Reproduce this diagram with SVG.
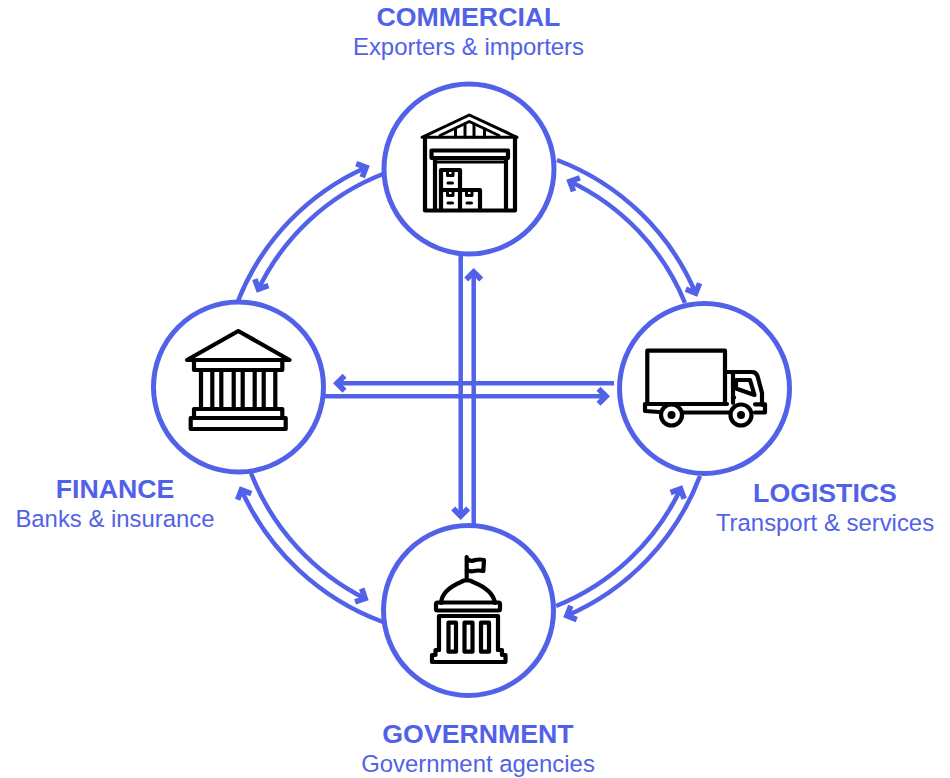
<svg xmlns="http://www.w3.org/2000/svg" width="950" height="778" viewBox="0 0 950 778">
<style>
text{font-family:"Liberation Sans",Arial,sans-serif;fill:#5162e8;text-anchor:middle}
.t{font-size:26.700px;font-weight:700}
.s{font-size:23.900px}
.c{fill:#fff;stroke:#5162e8;stroke-width:5}
.l{fill:none;stroke:#5162e8;stroke-width:4.500;marker-end:url(#a)}
.i{fill:none;stroke:#000;stroke-width:4.200;stroke-linejoin:round;stroke-linecap:round}
.n{stroke-width:3}
.k{fill:#000;stroke:none}
</style>
<defs>
<marker id="a" markerUnits="userSpaceOnUse" markerWidth="26" markerHeight="26" viewBox="-20 -13 26 26" refX="-3" refY="0" orient="auto">
<path d="M0,0 L-9.500,-9.500 L-13.500,-5.500 L-8,0 L-13.500,5.500 L-9.500,9.500 Z" fill="#5162e8"/>
</marker>
</defs>
<rect width="950" height="778" fill="#fff"/>
<g id="connectors">
<path class="l" d="M238,301 A245,245 0 0 1 367,167"/>
<path class="l" d="M383,174 A232,232 0 0 0 258,290"/>
<path class="l" d="M557,160 A245,245 0 0 1 696,294"/>
<path class="l" d="M685,303 A231,231 0 0 0 569,181"/>
<path class="l" d="M251,473 A236,236 0 0 0 366,599"/>
<path class="l" d="M383,622 A250,250 0 0 1 241,489"/>
<path class="l" d="M700,476 A247,247 0 0 1 566,616"/>
<path class="l" d="M556,606 A234,234 0 0 0 681,488"/>
<path class="l" d="M614,383.300 H336"/>
<path class="l" d="M325,396.300 H607"/>
<path class="l" d="M460.700,255 V517"/>
<path class="l" d="M473.700,524 V271"/>
</g>
<g id="commercial">
<circle class="c" cx="469" cy="169" r="85"/>
<g class="i">
<path class="n" d="M422,137.300 L469.300,115 L517,137.300 Z"/>
<path class="n" d="M440,135.500 L469.300,121.500 L499,135.500"/>
<path class="n" d="M455.500,129 V137 M465,124 V137 M474,124 V137 M484.500,129 V137"/>
<path d="M425,137.300 V210.500 H515 V137.300"/>
<path d="M431.500,150.500 H508 V158 H431.500 Z"/>
<path d="M435,158 V210 M506,158 V210"/>
<path class="n" d="M435,162 H506"/>
<path d="M441,170 H460 V190 H441 Z M441,190 V210 M460,190 H480 V210 M460,190 V210"/>
<path class="n" d="M447.500,171 V175.500 H453 V171 M447.500,191 V195.500 H453 V191 M466.500,191 V195.500 H472 V191"/>
<path class="n" d="M448,183 H452.500 M448,203 H452.500 M467,203 H471.500"/>
</g>
</g>
<g id="finance">
<circle class="c" cx="238.500" cy="387" r="85"/>
<g class="i">
<path d="M187,360 L238.300,331 L289.500,360 Z"/>
<path d="M194,360 V370 H282.300 V360"/>
<path d="M201,370 V409 M212.300,370 V409 M221.300,370 V409 M233.700,370 V409 M242.700,370 V409 M254.700,370 V409 M263.700,370 V409 M275.300,370 V409"/>
<path d="M194,409 H282.300 V418 H194 Z"/>
<path d="M190.700,418 H285.700 V429 H190.700 Z"/>
</g>
</g>
<g id="logistics">
<circle class="c" cx="704.500" cy="388.500" r="85"/>
<g class="i">
<path d="M647.300,403.300 V350.700 H725 V403.300"/>
<path d="M645,404 H727 M645,404 V411 L659,412 M683,412.500 H729"/>
<path d="M727,372 H752 Q756,372 757.500,376 L762,393 V405 M755,412.500 H765 V404.300 H755"/>
<path d="M733,372 V403"/>
<path d="M736,380 H750 L754.500,395 L736,388.500 Z"/>
<circle cx="671.500" cy="415" r="10.500"/>
<circle cx="741" cy="415" r="10.500"/>
</g>
<rect class="k" x="733" y="396" width="3" height="3"/>
<circle class="k" cx="671.500" cy="415" r="4"/>
<circle class="k" cx="741" cy="415" r="4"/>
</g>
<g id="government">
<circle class="c" cx="468.500" cy="610.500" r="85"/>
<g class="i">
<path d="M466.700,557 V580"/>
<path d="M467,559 Q471,562 475,560 Q480,559 484,560 L483.300,571 Q478,570 474,571 Q470,572 467,570"/>
<path d="M441,603 Q442,590 461,582 L464,580.500 H470 L473,582 Q493,590 495,603"/>
<rect x="436" y="602.500" width="64" height="8" rx="1.500"/>
<path d="M439,616 V650 M498,616 V650 M439,616 H498"/>
<rect x="448.500" y="622.700" width="7.500" height="29"/>
<rect x="464.500" y="622.700" width="8" height="29"/>
<rect x="481" y="622.700" width="8" height="29"/>
<path d="M439,650 H435.500 V655 H432 V662 H505.500 V655 H502 V650 H498"/>
</g>
</g>
<g id="labels">
<text class="t" x="468.500" y="25.500">COMMERCIAL</text>
<text class="s" x="468.500" y="55">Exporters &amp; importers</text>
<text class="t" x="115" y="497.500">FINANCE</text>
<text class="s" x="115" y="527">Banks &amp; insurance</text>
<text class="t" x="825" y="501.500">LOGISTICS</text>
<text class="s" x="825" y="531">Transport &amp; services</text>
<text class="t" x="478" y="742.500">GOVERNMENT</text>
<text class="s" x="478" y="772">Government agencies</text>
</g>
</svg>
